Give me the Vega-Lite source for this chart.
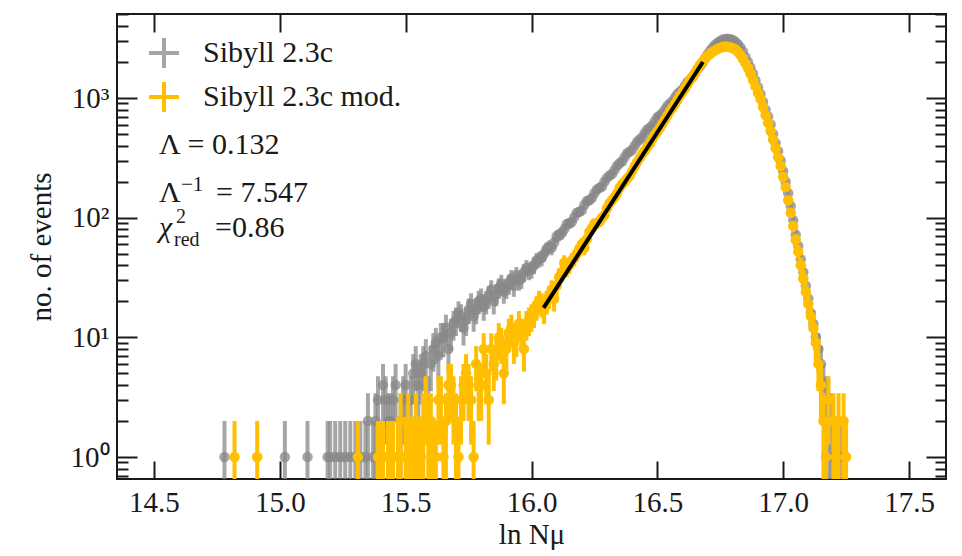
{
  "$schema": "https://vega.github.io/schema/vega-lite/v6.json",
  "width": 829,
  "height": 465,
  "autosize": {"type": "none"},
  "padding": {"left": 117, "top": 14, "right": 16, "bottom": 77},
  "background": "white",
  "config": {
    "view": {"stroke": "#1a1a1a", "strokeWidth": 2},
    "font": "Liberation Serif",
    "axis": {"grid": false, "domain": false, "tickColor": "#1a1a1a", "tickWidth": 2, "labelFont": "Liberation Serif", "labelFontSize": 29, "labelColor": "#1a1a1a", "titleFont": "Liberation Serif", "titleFontSize": 29, "titleFontWeight": "normal", "titleColor": "#1a1a1a"}
  },
  "datasets": {
    "pts": [
      {"m":"Sibyll 2.3c","x":14.78,"n":1,"lo":0.1,"hi":2},
      {"m":"Sibyll 2.3c","x":15.02,"n":1,"lo":0.1,"hi":2},
      {"m":"Sibyll 2.3c","x":15.11,"n":1,"lo":0.1,"hi":2},
      {"m":"Sibyll 2.3c","x":15.19,"n":1,"lo":0.1,"hi":2},
      {"m":"Sibyll 2.3c","x":15.24,"n":1,"lo":0.1,"hi":2},
      {"m":"Sibyll 2.3c","x":15.26,"n":1,"lo":0.1,"hi":2},
      {"m":"Sibyll 2.3c","x":15.28,"n":1,"lo":0.1,"hi":2},
      {"m":"Sibyll 2.3c","x":15.30,"n":1,"lo":0.1,"hi":2},
      {"m":"Sibyll 2.3c","x":15.32,"n":1,"lo":0.1,"hi":2},
      {"m":"Sibyll 2.3c","x":15.35,"n":2,"lo":0.59,"hi":3.41},
      {"m":"Sibyll 2.3c","x":15.37,"n":1,"lo":0.1,"hi":2},
      {"m":"Sibyll 2.3c","x":15.39,"n":3,"lo":1.27,"hi":4.73},
      {"m":"Sibyll 2.3c","x":15.41,"n":4,"lo":2,"hi":6},
      {"m":"Sibyll 2.3c","x":15.43,"n":2,"lo":0.59,"hi":3.41},
      {"m":"Sibyll 2.3c","x":15.45,"n":3,"lo":1.27,"hi":4.73},
      {"m":"Sibyll 2.3c","x":15.47,"n":1,"lo":0.1,"hi":2},
      {"m":"Sibyll 2.3c","x":15.49,"n":3,"lo":1.27,"hi":4.73},
      {"m":"Sibyll 2.3c","x":15.51,"n":2,"lo":0.59,"hi":3.41},
      {"m":"Sibyll 2.3c","x":15.53,"n":5,"lo":2.76,"hi":7.24},
      {"m":"Sibyll 2.3c","x":15.55,"n":4,"lo":2,"hi":6},
      {"m":"Sibyll 2.3c","x":15.57,"n":6,"lo":3.55,"hi":8.45},
      {"m":"Sibyll 2.3c","x":15.59,"n":3,"lo":1.27,"hi":4.73},
      {"m":"Sibyll 2.3c","x":15.61,"n":8,"lo":5.17,"hi":10.83},
      {"m":"Sibyll 2.3c","x":15.63,"n":7,"lo":4.35,"hi":9.65},
      {"m":"Sibyll 2.3c","x":15.65,"n":10,"lo":6.84,"hi":13.16},
      {"m":"Sibyll 2.3c","x":15.67,"n":8,"lo":5.17,"hi":10.83},
      {"m":"Sibyll 2.3c","x":15.69,"n":13,"lo":9.39,"hi":16.61},
      {"m":"Sibyll 2.3c","x":15.71,"n":16,"lo":12,"hi":20},
      {"m":"Sibyll 2.3c","x":15.73,"n":12,"lo":8.54,"hi":15.46},
      {"m":"Sibyll 2.3c","x":15.75,"n":17,"lo":12.88,"hi":21.12},
      {"m":"Sibyll 2.3c","x":15.77,"n":15,"lo":11.13,"hi":18.87},
      {"m":"Sibyll 2.3c","x":15.79,"n":20,"lo":15.53,"hi":24.47},
      {"m":"Sibyll 2.3c","x":15.81,"n":18,"lo":13.76,"hi":22.24},
      {"m":"Sibyll 2.3c","x":15.83,"n":22,"lo":17.31,"hi":26.69},
      {"m":"Sibyll 2.3c","x":15.85,"n":20,"lo":15.53,"hi":24.47},
      {"m":"Sibyll 2.3c","x":15.87,"n":26,"lo":20.9,"hi":31.1},
      {"m":"Sibyll 2.3c","x":15.89,"n":24,"lo":19.1,"hi":28.9},
      {"m":"Sibyll 2.3c","x":15.91,"n":28,"lo":22.7,"hi":33.3},
      {"m":"Sibyll 2.3c","x":15.93,"n":27,"lo":21.8,"hi":32.2},
      {"m":"Sibyll 2.3c","x":15.95,"n":30,"lo":24.5,"hi":35.5},
      {"m":"Sibyll 2.3c","x":15.97,"n":35,"lo":29.1,"hi":40.9},
      {"m":"Sibyll 2.3c","x":15.99,"n":36,"lo":30,"hi":42},
      {"m":"Sibyll 2.3c","x":16.01,"n":40,"lo":33.7,"hi":46.3},
      {"m":"Sibyll 2.3c","x":16.03,"n":45,"lo":38.3,"hi":51.7},
      {"m":"Sibyll 2.3c","x":16.05,"n":50,"lo":42.9,"hi":57.1},
      {"m":"Sibyll 2.3c","x":16.07,"n":57,"lo":49.5,"hi":64.5},
      {"m":"Sibyll 2.3c","x":16.09,"n":62,"lo":54.1,"hi":69.9},
      {"m":"Sibyll 2.3c","x":16.11,"n":72,"lo":63.5,"hi":80.5},
      {"m":"Sibyll 2.3c","x":16.13,"n":80,"lo":71.1,"hi":88.9},
      {"m":"Sibyll 2.3c","x":16.15,"n":90,"lo":80.5,"hi":99.5},
      {"m":"Sibyll 2.3c","x":16.17,"n":101,"lo":91,"hi":111},
      {"m":"Sibyll 2.3c","x":16.19,"n":112,"lo":101.4,"hi":122.6},
      {"m":"Sibyll 2.3c","x":16.21,"n":128,"lo":116.7,"hi":139.3},
      {"m":"Sibyll 2.3c","x":16.23,"n":140,"lo":128.2,"hi":151.8},
      {"m":"Sibyll 2.3c","x":16.25,"n":160,"lo":147.4,"hi":172.6},
      {"m":"Sibyll 2.3c","x":16.27,"n":178,"lo":164.7,"hi":191.3},
      {"m":"Sibyll 2.3c","x":16.29,"n":200,"lo":185.9,"hi":214.1},
      {"m":"Sibyll 2.3c","x":16.31,"n":225,"lo":210,"hi":240},
      {"m":"Sibyll 2.3c","x":16.33,"n":250,"lo":234.2,"hi":265.8},
      {"m":"Sibyll 2.3c","x":16.35,"n":285,"lo":268.1,"hi":301.9},
      {"m":"Sibyll 2.3c","x":16.37,"n":320,"lo":302.1,"hi":337.9},
      {"m":"Sibyll 2.3c","x":16.39,"n":355,"lo":336.2,"hi":373.8},
      {"m":"Sibyll 2.3c","x":16.41,"n":400,"lo":380,"hi":420},
      {"m":"Sibyll 2.3c","x":16.43,"n":450,"lo":428.8,"hi":471.2},
      {"m":"Sibyll 2.3c","x":16.45,"n":510,"lo":487.4,"hi":532.6},
      {"m":"Sibyll 2.3c","x":16.47,"n":565,"lo":541.2,"hi":588.8},
      {"m":"Sibyll 2.3c","x":16.49,"n":640,"lo":614.7,"hi":665.3},
      {"m":"Sibyll 2.3c","x":16.51,"n":715,"lo":688.3,"hi":741.7},
      {"m":"Sibyll 2.3c","x":16.53,"n":800,"lo":771.7,"hi":828.3},
      {"m":"Sibyll 2.3c","x":16.55,"n":900,"lo":870,"hi":930},
      {"m":"Sibyll 2.3c","x":16.57,"n":1010,"lo":978.2,"hi":1041.8},
      {"m":"Sibyll 2.3c","x":16.59,"n":1130,"lo":1096.4,"hi":1163.6},
      {"m":"Sibyll 2.3c","x":16.61,"n":1270,"lo":1234.4,"hi":1305.6},
      {"m":"Sibyll 2.3c","x":16.63,"n":1430,"lo":1392.2,"hi":1467.8},
      {"m":"Sibyll 2.3c","x":16.65,"n":1620,"lo":1579.8,"hi":1660.2},
      {"m":"Sibyll 2.3c","x":16.67,"n":1850,"lo":1807,"hi":1893},
      {"m":"Sibyll 2.3c","x":16.69,"n":2150,"lo":2103.6,"hi":2196.4},
      {"m":"Sibyll 2.3c","x":16.71,"n":2480,"lo":2430.2,"hi":2529.8},
      {"m":"Sibyll 2.3c","x":16.73,"n":2780,"lo":2727.3,"hi":2832.7},
      {"m":"Sibyll 2.3c","x":16.75,"n":3000,"lo":2945.2,"hi":3054.8},
      {"m":"Sibyll 2.3c","x":16.77,"n":3120,"lo":3064.1,"hi":3175.9},
      {"m":"Sibyll 2.3c","x":16.79,"n":3100,"lo":3044.3,"hi":3155.7},
      {"m":"Sibyll 2.3c","x":16.81,"n":2950,"lo":2895.7,"hi":3004.3},
      {"m":"Sibyll 2.3c","x":16.83,"n":2650,"lo":2598.5,"hi":2701.5},
      {"m":"Sibyll 2.3c","x":16.85,"n":2200,"lo":2153,"hi":2247},
      {"m":"Sibyll 2.3c","x":16.87,"n":1800,"lo":1757.6,"hi":1842.4},
      {"m":"Sibyll 2.3c","x":16.89,"n":1400,"lo":1362.6,"hi":1437.4},
      {"m":"Sibyll 2.3c","x":16.91,"n":1080,"lo":1047.1,"hi":1112.9},
      {"m":"Sibyll 2.3c","x":16.93,"n":800,"lo":771.7,"hi":828.3},
      {"m":"Sibyll 2.3c","x":16.95,"n":600,"lo":575.5,"hi":624.5},
      {"m":"Sibyll 2.3c","x":16.97,"n":420,"lo":399.5,"hi":440.5},
      {"m":"Sibyll 2.3c","x":16.99,"n":300,"lo":282.7,"hi":317.3},
      {"m":"Sibyll 2.3c","x":17.01,"n":200,"lo":185.9,"hi":214.1},
      {"m":"Sibyll 2.3c","x":17.03,"n":125,"lo":113.8,"hi":136.2},
      {"m":"Sibyll 2.3c","x":17.05,"n":72,"lo":63.5,"hi":80.5},
      {"m":"Sibyll 2.3c","x":17.07,"n":45,"lo":38.3,"hi":51.7},
      {"m":"Sibyll 2.3c","x":17.09,"n":27,"lo":21.8,"hi":32.2},
      {"m":"Sibyll 2.3c","x":17.11,"n":16,"lo":12,"hi":20},
      {"m":"Sibyll 2.3c","x":17.13,"n":10,"lo":6.84,"hi":13.16},
      {"m":"Sibyll 2.3c","x":17.15,"n":6,"lo":3.55,"hi":8.45},
      {"m":"Sibyll 2.3c","x":17.17,"n":3,"lo":1.27,"hi":4.73},
      {"m":"Sibyll 2.3c","x":17.19,"n":2,"lo":0.59,"hi":3.41},
      {"m":"Sibyll 2.3c","x":17.21,"n":1,"lo":0.1,"hi":2},
      {"m":"Sibyll 2.3c","x":17.23,"n":1,"lo":0.1,"hi":2},
      {"m":"Sibyll 2.3c","x":15.20,"n":1,"lo":0.1,"hi":2},
      {"m":"Sibyll 2.3c","x":15.22,"n":1,"lo":0.1,"hi":2},
      {"m":"Sibyll 2.3c","x":15.34,"n":1,"lo":0.1,"hi":2},
      {"m":"Sibyll 2.3c","x":15.38,"n":2,"lo":0.59,"hi":3.41},
      {"m":"Sibyll 2.3c","x":15.40,"n":1,"lo":0.1,"hi":2},
      {"m":"Sibyll 2.3c","x":15.42,"n":3,"lo":1.27,"hi":4.73},
      {"m":"Sibyll 2.3c","x":15.44,"n":2,"lo":0.59,"hi":3.41},
      {"m":"Sibyll 2.3c","x":15.46,"n":4,"lo":2,"hi":6},
      {"m":"Sibyll 2.3c","x":15.48,"n":2,"lo":0.59,"hi":3.41},
      {"m":"Sibyll 2.3c","x":15.50,"n":4,"lo":2,"hi":6},
      {"m":"Sibyll 2.3c","x":15.52,"n":3,"lo":1.27,"hi":4.73},
      {"m":"Sibyll 2.3c","x":15.54,"n":6,"lo":3.55,"hi":8.45},
      {"m":"Sibyll 2.3c","x":15.56,"n":5,"lo":2.76,"hi":7.24},
      {"m":"Sibyll 2.3c","x":15.58,"n":7,"lo":4.35,"hi":9.65},
      {"m":"Sibyll 2.3c","x":15.60,"n":6,"lo":3.55,"hi":8.45},
      {"m":"Sibyll 2.3c","x":15.62,"n":9,"lo":6,"hi":12},
      {"m":"Sibyll 2.3c","x":15.64,"n":10,"lo":6.84,"hi":13.16},
      {"m":"Sibyll 2.3c","x":15.66,"n":12,"lo":8.54,"hi":15.46},
      {"m":"Sibyll 2.3c","x":15.68,"n":11,"lo":7.68,"hi":14.32},
      {"m":"Sibyll 2.3c","x":15.70,"n":14,"lo":10.26,"hi":17.74},
      {"m":"Sibyll 2.3c","x":15.72,"n":15,"lo":11.13,"hi":18.87},
      {"m":"Sibyll 2.3c","x":15.74,"n":14,"lo":10.26,"hi":17.74},
      {"m":"Sibyll 2.3c","x":15.76,"n":19,"lo":14.64,"hi":23.36},
      {"m":"Sibyll 2.3c","x":15.78,"n":17,"lo":12.88,"hi":21.12},
      {"m":"Sibyll 2.3c","x":15.80,"n":21,"lo":16.42,"hi":25.58},
      {"m":"Sibyll 2.3c","x":15.82,"n":20,"lo":15.53,"hi":24.47},
      {"m":"Sibyll 2.3c","x":15.84,"n":25,"lo":20,"hi":30},
      {"m":"Sibyll 2.3c","x":15.86,"n":23,"lo":18.2,"hi":27.8},
      {"m":"Sibyll 2.3c","x":15.88,"n":28,"lo":22.7,"hi":33.3},
      {"m":"Sibyll 2.3c","x":15.90,"n":26,"lo":20.9,"hi":31.1},
      {"m":"Sibyll 2.3c","x":15.92,"n":31,"lo":25.4,"hi":36.6},
      {"m":"Sibyll 2.3c","x":15.94,"n":33,"lo":27.3,"hi":38.7},
      {"m":"Sibyll 2.3c","x":15.96,"n":31,"lo":25.4,"hi":36.6},
      {"m":"Sibyll 2.3c","x":15.98,"n":38,"lo":31.8,"hi":44.2},
      {"m":"Sibyll 2.3c","x":16.00,"n":37,"lo":30.9,"hi":43.1},
      {"m":"Sibyll 2.3c","x":16.02,"n":44,"lo":37.4,"hi":50.6},
      {"m":"Sibyll 2.3c","x":16.04,"n":46,"lo":39.2,"hi":52.8},
      {"m":"Sibyll 2.3c","x":16.06,"n":55,"lo":47.6,"hi":62.4},
      {"m":"Sibyll 2.3c","x":16.08,"n":56,"lo":48.5,"hi":63.5},
      {"m":"Sibyll 2.3c","x":16.10,"n":70,"lo":61.6,"hi":78.4},
      {"m":"Sibyll 2.3c","x":16.12,"n":74,"lo":65.4,"hi":82.6},
      {"m":"Sibyll 2.3c","x":16.14,"n":88,"lo":78.6,"hi":97.4},
      {"m":"Sibyll 2.3c","x":16.16,"n":92,"lo":82.4,"hi":101.6},
      {"m":"Sibyll 2.3c","x":16.18,"n":110,"lo":99.5,"hi":120.5},
      {"m":"Sibyll 2.3c","x":16.20,"n":115,"lo":104.3,"hi":125.7},
      {"m":"Sibyll 2.3c","x":16.22,"n":138,"lo":126.3,"hi":149.7},
      {"m":"Sibyll 2.3c","x":16.24,"n":146,"lo":133.9,"hi":158.1},
      {"m":"Sibyll 2.3c","x":16.26,"n":172,"lo":158.9,"hi":185.1},
      {"m":"Sibyll 2.3c","x":16.28,"n":182,"lo":168.5,"hi":195.5},
      {"m":"Sibyll 2.3c","x":16.30,"n":215,"lo":200.3,"hi":229.7},
      {"m":"Sibyll 2.3c","x":16.32,"n":232,"lo":216.8,"hi":247.2},
      {"m":"Sibyll 2.3c","x":16.34,"n":272,"lo":255.5,"hi":288.5},
      {"m":"Sibyll 2.3c","x":16.36,"n":295,"lo":277.8,"hi":312.2},
      {"m":"Sibyll 2.3c","x":16.38,"n":345,"lo":326.4,"hi":363.6},
      {"m":"Sibyll 2.3c","x":16.40,"n":370,"lo":350.8,"hi":389.2},
      {"m":"Sibyll 2.3c","x":16.42,"n":430,"lo":409.3,"hi":450.7},
      {"m":"Sibyll 2.3c","x":16.44,"n":470,"lo":448.3,"hi":491.7},
      {"m":"Sibyll 2.3c","x":16.46,"n":545,"lo":521.7,"hi":568.3},
      {"m":"Sibyll 2.3c","x":16.48,"n":590,"lo":565.7,"hi":614.3},
      {"m":"Sibyll 2.3c","x":16.50,"n":690,"lo":663.7,"hi":716.3},
      {"m":"Sibyll 2.3c","x":16.52,"n":745,"lo":717.7,"hi":772.3},
      {"m":"Sibyll 2.3c","x":16.54,"n":860,"lo":830.7,"hi":889.3},
      {"m":"Sibyll 2.3c","x":16.56,"n":940,"lo":909.3,"hi":970.7},
      {"m":"Sibyll 2.3c","x":16.58,"n":1080,"lo":1047.1,"hi":1112.9},
      {"m":"Sibyll 2.3c","x":16.60,"n":1180,"lo":1145.7,"hi":1214.3},
      {"m":"Sibyll 2.3c","x":16.62,"n":1360,"lo":1323.1,"hi":1396.9},
      {"m":"Sibyll 2.3c","x":16.64,"n":1500,"lo":1461.3,"hi":1538.7},
      {"m":"Sibyll 2.3c","x":16.66,"n":1750,"lo":1708.2,"hi":1791.8},
      {"m":"Sibyll 2.3c","x":16.68,"n":1980,"lo":1935.5,"hi":2024.5},
      {"m":"Sibyll 2.3c","x":16.70,"n":2320,"lo":2271.8,"hi":2368.2},
      {"m":"Sibyll 2.3c","x":16.72,"n":2650,"lo":2598.5,"hi":2701.5},
      {"m":"Sibyll 2.3c","x":16.74,"n":2900,"lo":2846.2,"hi":2953.8},
      {"m":"Sibyll 2.3c","x":16.76,"n":3080,"lo":3024.5,"hi":3135.5},
      {"m":"Sibyll 2.3c","x":16.78,"n":3130,"lo":3074,"hi":3186},
      {"m":"Sibyll 2.3c","x":16.80,"n":3050,"lo":2994.8,"hi":3105.2},
      {"m":"Sibyll 2.3c","x":16.82,"n":2820,"lo":2766.9,"hi":2873.1},
      {"m":"Sibyll 2.3c","x":16.84,"n":2450,"lo":2400.5,"hi":2499.5},
      {"m":"Sibyll 2.3c","x":16.86,"n":2000,"lo":1955.3,"hi":2044.7},
      {"m":"Sibyll 2.3c","x":16.88,"n":1600,"lo":1560,"hi":1640},
      {"m":"Sibyll 2.3c","x":16.90,"n":1230,"lo":1194.9,"hi":1265.1},
      {"m":"Sibyll 2.3c","x":16.92,"n":930,"lo":899.5,"hi":960.5},
      {"m":"Sibyll 2.3c","x":16.94,"n":700,"lo":673.5,"hi":726.5},
      {"m":"Sibyll 2.3c","x":16.96,"n":500,"lo":477.6,"hi":522.4},
      {"m":"Sibyll 2.3c","x":16.98,"n":360,"lo":341,"hi":379},
      {"m":"Sibyll 2.3c","x":17.00,"n":245,"lo":229.3,"hi":260.7},
      {"m":"Sibyll 2.3c","x":17.02,"n":160,"lo":147.4,"hi":172.6},
      {"m":"Sibyll 2.3c","x":17.04,"n":95,"lo":85.3,"hi":104.7},
      {"m":"Sibyll 2.3c","x":17.06,"n":58,"lo":50.4,"hi":65.6},
      {"m":"Sibyll 2.3c","x":17.08,"n":35,"lo":29.1,"hi":40.9},
      {"m":"Sibyll 2.3c","x":17.10,"n":21,"lo":16.42,"hi":25.58},
      {"m":"Sibyll 2.3c","x":17.12,"n":13,"lo":9.39,"hi":16.61},
      {"m":"Sibyll 2.3c","x":17.14,"n":8,"lo":5.17,"hi":10.83},
      {"m":"Sibyll 2.3c","x":17.16,"n":4,"lo":2,"hi":6},
      {"m":"Sibyll 2.3c","x":17.18,"n":2,"lo":0.59,"hi":3.41},
      {"m":"Sibyll 2.3c","x":17.20,"n":1,"lo":0.1,"hi":2},
      {"m":"Sibyll 2.3c","x":17.22,"n":1,"lo":0.1,"hi":2},

      {"m":"Sibyll 2.3c mod.","x":14.82,"n":1,"lo":0.1,"hi":2},
      {"m":"Sibyll 2.3c mod.","x":14.91,"n":1,"lo":0.1,"hi":2},
      {"m":"Sibyll 2.3c mod.","x":15.31,"n":1,"lo":0.1,"hi":2},
      {"m":"Sibyll 2.3c mod.","x":15.39,"n":1,"lo":0.1,"hi":2},
      {"m":"Sibyll 2.3c mod.","x":15.41,"n":1,"lo":0.1,"hi":2},
      {"m":"Sibyll 2.3c mod.","x":15.43,"n":1,"lo":0.1,"hi":2},
      {"m":"Sibyll 2.3c mod.","x":15.45,"n":1,"lo":0.1,"hi":2},
      {"m":"Sibyll 2.3c mod.","x":15.47,"n":1,"lo":0.1,"hi":2},
      {"m":"Sibyll 2.3c mod.","x":15.51,"n":2,"lo":0.59,"hi":3.41},
      {"m":"Sibyll 2.3c mod.","x":15.53,"n":1,"lo":0.1,"hi":2},
      {"m":"Sibyll 2.3c mod.","x":15.55,"n":1,"lo":0.1,"hi":2},
      {"m":"Sibyll 2.3c mod.","x":15.57,"n":2,"lo":0.59,"hi":3.41},
      {"m":"Sibyll 2.3c mod.","x":15.59,"n":2,"lo":0.59,"hi":3.41},
      {"m":"Sibyll 2.3c mod.","x":15.61,"n":1,"lo":0.1,"hi":2},
      {"m":"Sibyll 2.3c mod.","x":15.63,"n":3,"lo":1.27,"hi":4.73},
      {"m":"Sibyll 2.3c mod.","x":15.65,"n":1,"lo":0.1,"hi":2},
      {"m":"Sibyll 2.3c mod.","x":15.67,"n":4,"lo":2,"hi":6},
      {"m":"Sibyll 2.3c mod.","x":15.69,"n":3,"lo":1.27,"hi":4.73},
      {"m":"Sibyll 2.3c mod.","x":15.71,"n":1,"lo":0.1,"hi":2},
      {"m":"Sibyll 2.3c mod.","x":15.73,"n":4,"lo":2,"hi":6},
      {"m":"Sibyll 2.3c mod.","x":15.75,"n":4,"lo":2,"hi":6},
      {"m":"Sibyll 2.3c mod.","x":15.77,"n":1,"lo":0.1,"hi":2},
      {"m":"Sibyll 2.3c mod.","x":15.79,"n":4,"lo":2,"hi":6},
      {"m":"Sibyll 2.3c mod.","x":15.81,"n":8,"lo":5.17,"hi":10.83},
      {"m":"Sibyll 2.3c mod.","x":15.83,"n":3,"lo":1.27,"hi":4.73},
      {"m":"Sibyll 2.3c mod.","x":15.85,"n":6,"lo":3.55,"hi":8.45},
      {"m":"Sibyll 2.3c mod.","x":15.87,"n":10,"lo":6.84,"hi":13.16},
      {"m":"Sibyll 2.3c mod.","x":15.89,"n":5,"lo":2.76,"hi":7.24},
      {"m":"Sibyll 2.3c mod.","x":15.91,"n":11,"lo":7.68,"hi":14.32},
      {"m":"Sibyll 2.3c mod.","x":15.93,"n":9,"lo":6,"hi":12},
      {"m":"Sibyll 2.3c mod.","x":15.95,"n":13,"lo":9.39,"hi":16.61},
      {"m":"Sibyll 2.3c mod.","x":15.97,"n":8,"lo":5.17,"hi":10.83},
      {"m":"Sibyll 2.3c mod.","x":15.99,"n":14,"lo":10.26,"hi":17.74},
      {"m":"Sibyll 2.3c mod.","x":16.01,"n":16,"lo":12,"hi":20},
      {"m":"Sibyll 2.3c mod.","x":16.03,"n":20,"lo":15.53,"hi":24.47},
      {"m":"Sibyll 2.3c mod.","x":16.05,"n":17,"lo":12.88,"hi":21.12},
      {"m":"Sibyll 2.3c mod.","x":16.07,"n":22,"lo":17.31,"hi":26.69},
      {"m":"Sibyll 2.3c mod.","x":16.09,"n":21,"lo":16.42,"hi":25.58},
      {"m":"Sibyll 2.3c mod.","x":16.11,"n":32,"lo":26.3,"hi":37.7},
      {"m":"Sibyll 2.3c mod.","x":16.13,"n":42,"lo":35.5,"hi":48.5},
      {"m":"Sibyll 2.3c mod.","x":16.15,"n":40,"lo":33.7,"hi":46.3},
      {"m":"Sibyll 2.3c mod.","x":16.17,"n":46,"lo":39.2,"hi":52.8},
      {"m":"Sibyll 2.3c mod.","x":16.19,"n":55,"lo":47.6,"hi":62.4},
      {"m":"Sibyll 2.3c mod.","x":16.21,"n":56,"lo":48.5,"hi":63.5},
      {"m":"Sibyll 2.3c mod.","x":16.23,"n":76,"lo":67.3,"hi":84.7},
      {"m":"Sibyll 2.3c mod.","x":16.25,"n":89,"lo":79.6,"hi":98.4},
      {"m":"Sibyll 2.3c mod.","x":16.27,"n":93,"lo":83.4,"hi":102.6},
      {"m":"Sibyll 2.3c mod.","x":16.29,"n":105,"lo":94.8,"hi":115.2},
      {"m":"Sibyll 2.3c mod.","x":16.31,"n":132,"lo":120.5,"hi":143.5},
      {"m":"Sibyll 2.3c mod.","x":16.33,"n":148,"lo":135.8,"hi":160.2},
      {"m":"Sibyll 2.3c mod.","x":16.35,"n":178,"lo":164.7,"hi":191.3},
      {"m":"Sibyll 2.3c mod.","x":16.37,"n":200,"lo":185.9,"hi":214.1},
      {"m":"Sibyll 2.3c mod.","x":16.39,"n":224,"lo":209,"hi":239},
      {"m":"Sibyll 2.3c mod.","x":16.41,"n":269,"lo":252.6,"hi":285.4},
      {"m":"Sibyll 2.3c mod.","x":16.43,"n":316,"lo":298.2,"hi":333.8},
      {"m":"Sibyll 2.3c mod.","x":16.45,"n":363,"lo":344,"hi":382},
      {"m":"Sibyll 2.3c mod.","x":16.47,"n":417,"lo":396.6,"hi":437.4},
      {"m":"Sibyll 2.3c mod.","x":16.49,"n":490,"lo":467.9,"hi":512.1},
      {"m":"Sibyll 2.3c mod.","x":16.51,"n":562,"lo":538.3,"hi":585.7},
      {"m":"Sibyll 2.3c mod.","x":16.53,"n":660,"lo":634.3,"hi":685.7},
      {"m":"Sibyll 2.3c mod.","x":16.55,"n":776,"lo":748.1,"hi":803.9},
      {"m":"Sibyll 2.3c mod.","x":16.57,"n":891,"lo":861.2,"hi":920.8},
      {"m":"Sibyll 2.3c mod.","x":16.59,"n":1047,"lo":1014.6,"hi":1079.4},
      {"m":"Sibyll 2.3c mod.","x":16.61,"n":1200,"lo":1165.4,"hi":1234.6},
      {"m":"Sibyll 2.3c mod.","x":16.63,"n":1413,"lo":1375.4,"hi":1450.6},
      {"m":"Sibyll 2.3c mod.","x":16.65,"n":1620,"lo":1579.8,"hi":1660.2},
      {"m":"Sibyll 2.3c mod.","x":16.67,"n":1900,"lo":1856.4,"hi":1943.6},
      {"m":"Sibyll 2.3c mod.","x":16.69,"n":2140,"lo":2093.7,"hi":2186.3},
      {"m":"Sibyll 2.3c mod.","x":16.71,"n":2340,"lo":2291.6,"hi":2388.4},
      {"m":"Sibyll 2.3c mod.","x":16.73,"n":2510,"lo":2459.9,"hi":2560.1},
      {"m":"Sibyll 2.3c mod.","x":16.75,"n":2630,"lo":2578.7,"hi":2681.3},
      {"m":"Sibyll 2.3c mod.","x":16.77,"n":2690,"lo":2638.1,"hi":2741.9},
      {"m":"Sibyll 2.3c mod.","x":16.79,"n":2650,"lo":2598.5,"hi":2701.5},
      {"m":"Sibyll 2.3c mod.","x":16.81,"n":2550,"lo":2499.5,"hi":2600.5},
      {"m":"Sibyll 2.3c mod.","x":16.83,"n":2300,"lo":2252,"hi":2348},
      {"m":"Sibyll 2.3c mod.","x":16.85,"n":1950,"lo":1905.8,"hi":1994.2},
      {"m":"Sibyll 2.3c mod.","x":16.87,"n":1600,"lo":1560,"hi":1640},
      {"m":"Sibyll 2.3c mod.","x":16.89,"n":1250,"lo":1214.6,"hi":1285.4},
      {"m":"Sibyll 2.3c mod.","x":16.91,"n":980,"lo":948.7,"hi":1011.3},
      {"m":"Sibyll 2.3c mod.","x":16.93,"n":720,"lo":693.2,"hi":746.8},
      {"m":"Sibyll 2.3c mod.","x":16.95,"n":530,"lo":507,"hi":553},
      {"m":"Sibyll 2.3c mod.","x":16.97,"n":380,"lo":360.5,"hi":399.5},
      {"m":"Sibyll 2.3c mod.","x":16.99,"n":270,"lo":253.6,"hi":286.4},
      {"m":"Sibyll 2.3c mod.","x":17.01,"n":180,"lo":166.6,"hi":193.4},
      {"m":"Sibyll 2.3c mod.","x":17.03,"n":110,"lo":99.5,"hi":120.5},
      {"m":"Sibyll 2.3c mod.","x":17.05,"n":65,"lo":56.9,"hi":73.1},
      {"m":"Sibyll 2.3c mod.","x":17.07,"n":40,"lo":33.7,"hi":46.3},
      {"m":"Sibyll 2.3c mod.","x":17.09,"n":24,"lo":19.1,"hi":28.9},
      {"m":"Sibyll 2.3c mod.","x":17.11,"n":15,"lo":11.13,"hi":18.87},
      {"m":"Sibyll 2.3c mod.","x":17.13,"n":9,"lo":6,"hi":12},
      {"m":"Sibyll 2.3c mod.","x":17.15,"n":4,"lo":2,"hi":6},
      {"m":"Sibyll 2.3c mod.","x":17.17,"n":1,"lo":0.1,"hi":2},
      {"m":"Sibyll 2.3c mod.","x":17.18,"n":3,"lo":1.27,"hi":4.73},
      {"m":"Sibyll 2.3c mod.","x":17.20,"n":2,"lo":0.59,"hi":3.41},
      {"m":"Sibyll 2.3c mod.","x":17.22,"n":2,"lo":0.59,"hi":3.41},
      {"m":"Sibyll 2.3c mod.","x":17.25,"n":1,"lo":0.1,"hi":2},
      {"m":"Sibyll 2.3c mod.","x":15.40,"n":1,"lo":0.1,"hi":2},
      {"m":"Sibyll 2.3c mod.","x":15.44,"n":1,"lo":0.1,"hi":2},
      {"m":"Sibyll 2.3c mod.","x":15.48,"n":2,"lo":0.59,"hi":3.41},
      {"m":"Sibyll 2.3c mod.","x":15.50,"n":1,"lo":0.1,"hi":2},
      {"m":"Sibyll 2.3c mod.","x":15.52,"n":1,"lo":0.1,"hi":2},
      {"m":"Sibyll 2.3c mod.","x":15.54,"n":2,"lo":0.59,"hi":3.41},
      {"m":"Sibyll 2.3c mod.","x":15.56,"n":1,"lo":0.1,"hi":2},
      {"m":"Sibyll 2.3c mod.","x":15.58,"n":3,"lo":1.27,"hi":4.73},
      {"m":"Sibyll 2.3c mod.","x":15.60,"n":2,"lo":0.59,"hi":3.41},
      {"m":"Sibyll 2.3c mod.","x":15.62,"n":1,"lo":0.1,"hi":2},
      {"m":"Sibyll 2.3c mod.","x":15.64,"n":3,"lo":1.27,"hi":4.73},
      {"m":"Sibyll 2.3c mod.","x":15.66,"n":2,"lo":0.59,"hi":3.41},
      {"m":"Sibyll 2.3c mod.","x":15.68,"n":4,"lo":2,"hi":6},
      {"m":"Sibyll 2.3c mod.","x":15.70,"n":2,"lo":0.59,"hi":3.41},
      {"m":"Sibyll 2.3c mod.","x":15.72,"n":3,"lo":1.27,"hi":4.73},
      {"m":"Sibyll 2.3c mod.","x":15.74,"n":5,"lo":2.76,"hi":7.24},
      {"m":"Sibyll 2.3c mod.","x":15.76,"n":3,"lo":1.27,"hi":4.73},
      {"m":"Sibyll 2.3c mod.","x":15.78,"n":6,"lo":3.55,"hi":8.45},
      {"m":"Sibyll 2.3c mod.","x":15.80,"n":4,"lo":2,"hi":6},
      {"m":"Sibyll 2.3c mod.","x":15.82,"n":5,"lo":2.76,"hi":7.24},
      {"m":"Sibyll 2.3c mod.","x":15.84,"n":8,"lo":5.17,"hi":10.83},
      {"m":"Sibyll 2.3c mod.","x":15.86,"n":7,"lo":4.35,"hi":9.65},
      {"m":"Sibyll 2.3c mod.","x":15.88,"n":9,"lo":6,"hi":12},
      {"m":"Sibyll 2.3c mod.","x":15.90,"n":8,"lo":5.17,"hi":10.83},
      {"m":"Sibyll 2.3c mod.","x":15.92,"n":12,"lo":8.54,"hi":15.46},
      {"m":"Sibyll 2.3c mod.","x":15.94,"n":10,"lo":6.84,"hi":13.16},
      {"m":"Sibyll 2.3c mod.","x":15.96,"n":11,"lo":7.68,"hi":14.32},
      {"m":"Sibyll 2.3c mod.","x":15.98,"n":13,"lo":9.39,"hi":16.61},
      {"m":"Sibyll 2.3c mod.","x":16.00,"n":15,"lo":11.13,"hi":18.87},
      {"m":"Sibyll 2.3c mod.","x":16.02,"n":18,"lo":13.76,"hi":22.24},
      {"m":"Sibyll 2.3c mod.","x":16.04,"n":19,"lo":14.64,"hi":23.36},
      {"m":"Sibyll 2.3c mod.","x":16.06,"n":20,"lo":15.53,"hi":24.47},
      {"m":"Sibyll 2.3c mod.","x":16.08,"n":25,"lo":20,"hi":30},
      {"m":"Sibyll 2.3c mod.","x":16.10,"n":27,"lo":21.8,"hi":32.2},
      {"m":"Sibyll 2.3c mod.","x":16.12,"n":35,"lo":29.1,"hi":40.9},
      {"m":"Sibyll 2.3c mod.","x":16.14,"n":38,"lo":31.8,"hi":44.2},
      {"m":"Sibyll 2.3c mod.","x":16.16,"n":44,"lo":37.4,"hi":50.6},
      {"m":"Sibyll 2.3c mod.","x":16.18,"n":50,"lo":42.9,"hi":57.1},
      {"m":"Sibyll 2.3c mod.","x":16.20,"n":60,"lo":52.3,"hi":67.7},
      {"m":"Sibyll 2.3c mod.","x":16.22,"n":66,"lo":57.9,"hi":74.1},
      {"m":"Sibyll 2.3c mod.","x":16.24,"n":82,"lo":72.9,"hi":91.1},
      {"m":"Sibyll 2.3c mod.","x":16.26,"n":90,"lo":80.5,"hi":99.5},
      {"m":"Sibyll 2.3c mod.","x":16.28,"n":100,"lo":90,"hi":110},
      {"m":"Sibyll 2.3c mod.","x":16.30,"n":120,"lo":109,"hi":131},
      {"m":"Sibyll 2.3c mod.","x":16.32,"n":140,"lo":128.2,"hi":151.8},
      {"m":"Sibyll 2.3c mod.","x":16.34,"n":160,"lo":147.4,"hi":172.6},
      {"m":"Sibyll 2.3c mod.","x":16.36,"n":190,"lo":176.2,"hi":203.8},
      {"m":"Sibyll 2.3c mod.","x":16.38,"n":212,"lo":197.4,"hi":226.6},
      {"m":"Sibyll 2.3c mod.","x":16.40,"n":245,"lo":229.3,"hi":260.7},
      {"m":"Sibyll 2.3c mod.","x":16.42,"n":292,"lo":274.9,"hi":309.1},
      {"m":"Sibyll 2.3c mod.","x":16.44,"n":340,"lo":321.6,"hi":358.4},
      {"m":"Sibyll 2.3c mod.","x":16.46,"n":390,"lo":370.3,"hi":409.7},
      {"m":"Sibyll 2.3c mod.","x":16.48,"n":455,"lo":433.7,"hi":476.3},
      {"m":"Sibyll 2.3c mod.","x":16.50,"n":525,"lo":502.1,"hi":547.9},
      {"m":"Sibyll 2.3c mod.","x":16.52,"n":610,"lo":585.3,"hi":634.7},
      {"m":"Sibyll 2.3c mod.","x":16.54,"n":715,"lo":688.3,"hi":741.7},
      {"m":"Sibyll 2.3c mod.","x":16.56,"n":830,"lo":801.2,"hi":858.8},
      {"m":"Sibyll 2.3c mod.","x":16.58,"n":965,"lo":933.9,"hi":996.1},
      {"m":"Sibyll 2.3c mod.","x":16.60,"n":1120,"lo":1086.5,"hi":1153.5},
      {"m":"Sibyll 2.3c mod.","x":16.62,"n":1300,"lo":1263.9,"hi":1336.1},
      {"m":"Sibyll 2.3c mod.","x":16.64,"n":1510,"lo":1471.1,"hi":1548.9},
      {"m":"Sibyll 2.3c mod.","x":16.66,"n":1760,"lo":1718,"hi":1802},
      {"m":"Sibyll 2.3c mod.","x":16.68,"n":2020,"lo":1975.1,"hi":2064.9},
      {"m":"Sibyll 2.3c mod.","x":16.70,"n":2250,"lo":2202.6,"hi":2297.4},
      {"m":"Sibyll 2.3c mod.","x":16.72,"n":2430,"lo":2380.7,"hi":2479.3},
      {"m":"Sibyll 2.3c mod.","x":16.74,"n":2580,"lo":2529.2,"hi":2630.8},
      {"m":"Sibyll 2.3c mod.","x":16.76,"n":2670,"lo":2618.3,"hi":2721.7},
      {"m":"Sibyll 2.3c mod.","x":16.78,"n":2680,"lo":2628.2,"hi":2731.8},
      {"m":"Sibyll 2.3c mod.","x":16.80,"n":2600,"lo":2549,"hi":2651},
      {"m":"Sibyll 2.3c mod.","x":16.82,"n":2430,"lo":2380.7,"hi":2479.3},
      {"m":"Sibyll 2.3c mod.","x":16.84,"n":2130,"lo":2083.9,"hi":2176.2},
      {"m":"Sibyll 2.3c mod.","x":16.86,"n":1780,"lo":1737.8,"hi":1822.2},
      {"m":"Sibyll 2.3c mod.","x":16.88,"n":1420,"lo":1382.3,"hi":1457.7},
      {"m":"Sibyll 2.3c mod.","x":16.90,"n":1100,"lo":1066.8,"hi":1133.2},
      {"m":"Sibyll 2.3c mod.","x":16.92,"n":840,"lo":811,"hi":869},
      {"m":"Sibyll 2.3c mod.","x":16.94,"n":620,"lo":595.1,"hi":644.9},
      {"m":"Sibyll 2.3c mod.","x":16.96,"n":450,"lo":428.8,"hi":471.2},
      {"m":"Sibyll 2.3c mod.","x":16.98,"n":320,"lo":302.1,"hi":337.9},
      {"m":"Sibyll 2.3c mod.","x":17.00,"n":220,"lo":205.2,"hi":234.8},
      {"m":"Sibyll 2.3c mod.","x":17.02,"n":140,"lo":128.2,"hi":151.8},
      {"m":"Sibyll 2.3c mod.","x":17.04,"n":85,"lo":75.8,"hi":94.2},
      {"m":"Sibyll 2.3c mod.","x":17.06,"n":52,"lo":44.8,"hi":59.2},
      {"m":"Sibyll 2.3c mod.","x":17.08,"n":31,"lo":25.4,"hi":36.6},
      {"m":"Sibyll 2.3c mod.","x":17.10,"n":19,"lo":14.64,"hi":23.36},
      {"m":"Sibyll 2.3c mod.","x":17.12,"n":12,"lo":8.54,"hi":15.46},
      {"m":"Sibyll 2.3c mod.","x":17.14,"n":6,"lo":3.55,"hi":8.45},
      {"m":"Sibyll 2.3c mod.","x":17.16,"n":2,"lo":0.59,"hi":3.41},
      {"m":"Sibyll 2.3c mod.","x":17.21,"n":1,"lo":0.1,"hi":2},
      {"m":"Sibyll 2.3c mod.","x":17.24,"n":2,"lo":0.59,"hi":3.41}
    ]
  },
  "data": {"name": "pts"},
  "resolve": {"axis": {"x": "independent", "y": "independent"}},
  "layer": [
    {
      "transform": [{"filter": "datum.m === 'Sibyll 2.3c'"}],
      "mark": {"type": "rule", "strokeWidth": 4, "clip": true},
      "encoding": {
        "x": {"field": "x", "type": "quantitative", "scale": {"domain": [14.353, 17.647], "nice": false, "zero": false},
          "axis": {"orient": "bottom", "values": [14.5, 15, 15.5, 16, 16.5, 17, 17.5], "format": ".1f", "tickSize": -18, "labelPadding": 27, "labelFlush": false, "title": "ln Nμ", "titleY": 64, "titleBaseline": "alphabetic"}},
        "y": {"field": "lo", "type": "quantitative", "scale": {"type": "log", "domain": [0.655, 5035], "nice": false},
          "axis": {"orient": "left", "values": [1, 10, 100, 1000], "labelExpr": "datum.value == 1 ? '10⁰' : datum.value == 10 ? '10¹' : datum.value == 100 ? '10²' : '10³'", "tickSize": -20, "labelPadding": 28, "title": "no. of events", "titleX": -67, "titleBaseline": "alphabetic"}},
        "y2": {"field": "hi"},
        "stroke": {"field": "m", "type": "nominal",
          "scale": {"domain": ["Sibyll 2.3c", "Sibyll 2.3c mod."], "range": ["rgba(136,136,136,0.75)", "#FFBF00"]},
          "legend": {"title": null, "orient": "none", "legendX": 30, "legendY": 22, "symbolType": "M-1,0H1M0,-1V1", "symbolSize": 900, "symbolStrokeWidth": 4, "symbolFillColor": "transparent", "labelFont": "Liberation Serif", "labelFontSize": 30, "labelColor": "#1a1a1a", "labelOffset": 22, "labelLimit": 400, "rowPadding": -2}}
      }
    },
    {
      "transform": [{"filter": "datum.m === 'Sibyll 2.3c'"}],
      "mark": {"type": "circle", "size": 110, "opacity": 1, "clip": true},
      "encoding": {
        "x": {"field": "x", "type": "quantitative", "scale": {"domain": [14.353, 17.647], "nice": false, "zero": false},
          "axis": {"orient": "top", "values": [14.5, 15, 15.5, 16, 16.5, 17, 17.5], "tickSize": -18, "labels": false, "title": null}},
        "y": {"field": "n", "type": "quantitative", "scale": {"type": "log", "domain": [0.655, 5035], "nice": false},
          "axis": {"orient": "right", "values": [1, 10, 100, 1000], "tickSize": -20, "labels": false, "title": null}},
        "color": {"field": "m", "type": "nominal",
          "scale": {"domain": ["Sibyll 2.3c", "Sibyll 2.3c mod."], "range": ["rgba(136,136,136,0.75)", "#FFBF00"]}, "legend": null}
      }
    },
    {
      "transform": [{"filter": "datum.m === 'Sibyll 2.3c mod.'"}],
      "mark": {"type": "rule", "strokeWidth": 4, "clip": true},
      "encoding": {
        "x": {"field": "x", "type": "quantitative", "axis": null},
        "y": {"field": "lo", "type": "quantitative", "scale": {"type": "log", "domain": [0.655, 5035], "nice": false},
          "axis": {"orient": "left", "values": [0.7, 0.8, 0.9, 2, 3, 4, 5, 6, 7, 8, 9, 20, 30, 40, 50, 60, 70, 80, 90, 200, 300, 400, 500, 600, 700, 800, 900, 2000, 3000, 4000, 5000], "tickSize": -11, "labels": false, "title": null}},
        "y2": {"field": "hi"},
        "stroke": {"field": "m", "type": "nominal", "legend": null}
      }
    },
    {
      "transform": [{"filter": "datum.m === 'Sibyll 2.3c mod.'"}],
      "mark": {"type": "circle", "size": 110, "opacity": 1, "clip": true},
      "encoding": {
        "x": {"field": "x", "type": "quantitative", "axis": null},
        "y": {"field": "n", "type": "quantitative", "scale": {"type": "log", "domain": [0.655, 5035], "nice": false},
          "axis": {"orient": "right", "values": [0.7, 0.8, 0.9, 2, 3, 4, 5, 6, 7, 8, 9, 20, 30, 40, 50, 60, 70, 80, 90, 200, 300, 400, 500, 600, 700, 800, 900, 2000, 3000, 4000, 5000], "tickSize": -11, "labels": false, "title": null}},
        "color": {"field": "m", "type": "nominal", "legend": null}
      }
    },
    {
      "data": {"values": [{"x": 16.048, "n": 17.6}, {"x": 16.681, "n": 2000}]},
      "mark": {"type": "line", "color": "black", "strokeWidth": 4},
      "encoding": {
        "x": {"field": "x", "type": "quantitative", "axis": null},
        "y": {"field": "n", "type": "quantitative", "axis": null}
      }
    },
    {
      "data": {"values": [{"t": "Λ = 0.132"}]},
      "mark": {"type": "text", "align": "left", "baseline": "alphabetic", "font": "Liberation Serif", "fontSize": 30, "color": "#1a1a1a"},
      "encoding": {"x": {"datum": 14.52, "type": "quantitative", "axis": null}, "y": {"datum": 341, "type": "quantitative", "axis": null}, "text": {"field": "t"}}
    },
    {
      "data": {"values": [{"t": "Λ"}]},
      "mark": {"type": "text", "align": "left", "baseline": "alphabetic", "font": "Liberation Serif", "fontSize": 30, "color": "#1a1a1a"},
      "encoding": {"x": {"datum": 14.52, "type": "quantitative", "axis": null}, "y": {"datum": 135, "type": "quantitative", "axis": null}, "text": {"field": "t"}}
    },
    {
      "data": {"values": [{"t": "−1"}]},
      "mark": {"type": "text", "align": "left", "baseline": "alphabetic", "font": "Liberation Serif", "fontSize": 21, "color": "#1a1a1a", "dx": 22, "dy": -11},
      "encoding": {"x": {"datum": 14.52, "type": "quantitative", "axis": null}, "y": {"datum": 135, "type": "quantitative", "axis": null}, "text": {"field": "t"}}
    },
    {
      "data": {"values": [{"t": "= 7.547"}]},
      "mark": {"type": "text", "align": "left", "baseline": "alphabetic", "font": "Liberation Serif", "fontSize": 30, "color": "#1a1a1a", "dx": 57},
      "encoding": {"x": {"datum": 14.52, "type": "quantitative", "axis": null}, "y": {"datum": 135, "type": "quantitative", "axis": null}, "text": {"field": "t"}}
    },
    {
      "data": {"values": [{"t": "χ"}]},
      "mark": {"type": "text", "align": "left", "baseline": "alphabetic", "font": "Liberation Serif", "fontStyle": "italic", "fontSize": 30, "color": "#1a1a1a"},
      "encoding": {"x": {"datum": 14.52, "type": "quantitative", "axis": null}, "y": {"datum": 69, "type": "quantitative", "axis": null}, "text": {"field": "t"}}
    },
    {
      "data": {"values": [{"t": "2"}]},
      "mark": {"type": "text", "align": "left", "baseline": "alphabetic", "font": "Liberation Serif", "fontSize": 20, "color": "#1a1a1a", "dx": 17, "dy": -14},
      "encoding": {"x": {"datum": 14.52, "type": "quantitative", "axis": null}, "y": {"datum": 69, "type": "quantitative", "axis": null}, "text": {"field": "t"}}
    },
    {
      "data": {"values": [{"t": "red"}]},
      "mark": {"type": "text", "align": "left", "baseline": "alphabetic", "font": "Liberation Serif", "fontSize": 20, "color": "#1a1a1a", "dx": 15, "dy": 9},
      "encoding": {"x": {"datum": 14.52, "type": "quantitative", "axis": null}, "y": {"datum": 69, "type": "quantitative", "axis": null}, "text": {"field": "t"}}
    },
    {
      "data": {"values": [{"t": "=0.86"}]},
      "mark": {"type": "text", "align": "left", "baseline": "alphabetic", "font": "Liberation Serif", "fontSize": 30, "color": "#1a1a1a", "dx": 56},
      "encoding": {"x": {"datum": 14.52, "type": "quantitative", "axis": null}, "y": {"datum": 69, "type": "quantitative", "axis": null}, "text": {"field": "t"}}
    }
  ]
}
